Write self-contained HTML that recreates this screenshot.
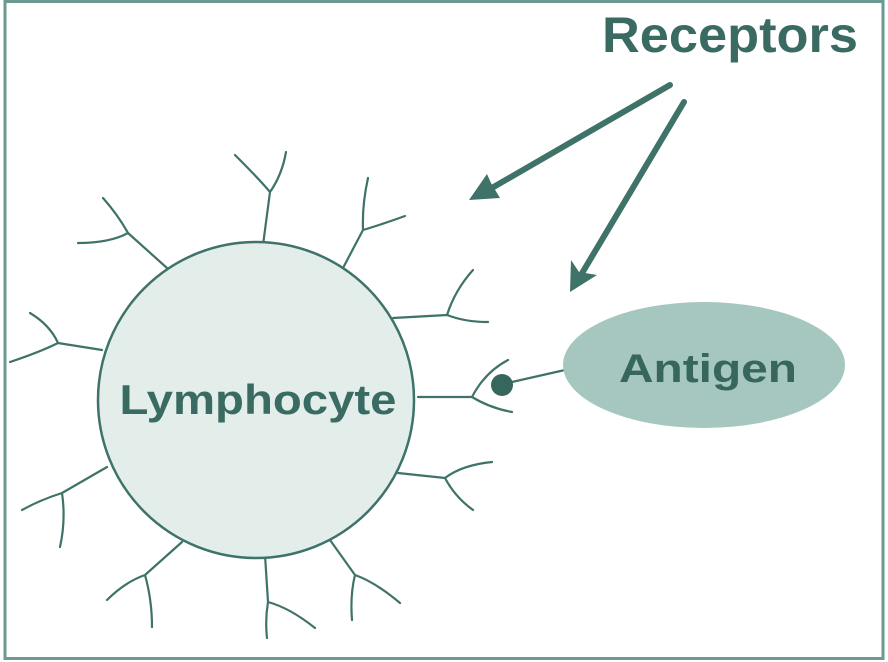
<!DOCTYPE html>
<html><head><style>
html,body{margin:0;padding:0;background:#fff;}
svg{display:block;}
</style></head><body>
<svg width="888" height="662" viewBox="0 0 888 662" xmlns="http://www.w3.org/2000/svg">
<rect x="5" y="1.5" width="878" height="657" fill="#fff" stroke="#6a9a92" stroke-width="3"/>
<g fill="none" stroke="#3f7268" stroke-width="2.2" stroke-linecap="round" stroke-linejoin="round">
<path d="M263,245 L270,192 Q260,180 235,155 M270,192 Q282,175 286,152"/>
<path d="M167,268 L128,233 Q118,215 103,198 M128,233 Q110,243 78,243"/>
<path d="M102,350 L58,343 Q50,325 30,313 M58,343 Q40,352 10,362"/>
<path d="M343,268 L363,230 Q362,205 368,178 M363,230 Q380,225 405,216"/>
<path d="M393,318 L447,315 Q455,290 473,270 M447,315 Q465,322 488,322"/>
<path d="M418,397 L472,397 Q485,372 508,360 M472,397 Q490,408 512,412"/>
<path d="M398,473 L445,478 Q462,465 492,462 M445,478 Q455,497 473,510"/>
<path d="M330,540 L355,575 Q375,582 400,603 M355,575 Q350,595 352,620"/>
<path d="M265,555 L268,602 Q290,608 315,628 M268,602 Q265,620 267,638"/>
<path d="M182,542 L145,575 Q125,582 107,600 M145,575 Q152,600 152,627"/>
<path d="M107,467 L62,493 Q40,500 22,510 M62,493 Q66,520 60,547"/>
<path d="M512,382 L565,370"/>
</g>
<circle cx="256" cy="400" r="158" fill="#e3eeeb" stroke="#3f7268" stroke-width="2.5"/>
<text x="258" y="414" text-anchor="middle" font-family="Liberation Sans, sans-serif" font-weight="bold" font-size="42" fill="#3a6b62" textLength="277" lengthAdjust="spacingAndGlyphs">Lymphocyte</text>
<ellipse cx="704" cy="365" rx="141" ry="63" fill="#a6c7c0"/>
<text x="708" y="382" text-anchor="middle" font-family="Liberation Sans, sans-serif" font-weight="bold" font-size="40" fill="#36665d" textLength="178" lengthAdjust="spacingAndGlyphs">Antigen</text>
<circle cx="502" cy="385" r="11" fill="#36665d"/>
<text x="602" y="52" font-family="Liberation Sans, sans-serif" font-weight="bold" font-size="50" fill="#3a6b62" textLength="256" lengthAdjust="spacingAndGlyphs">Receptors</text>
<g stroke="#3f7268" stroke-width="6" stroke-linecap="round" fill="none">
<path d="M670,85 L478,196"/>
<path d="M684,102 L575,285"/>
</g>
<g fill="#3f7268">
<path d="M469,200 L487,174 L491,183 L500,198 Z"/>
<path d="M570,292 L571,260 L579,272 L597,275 Z"/>
</g>
</svg>
</body></html>
